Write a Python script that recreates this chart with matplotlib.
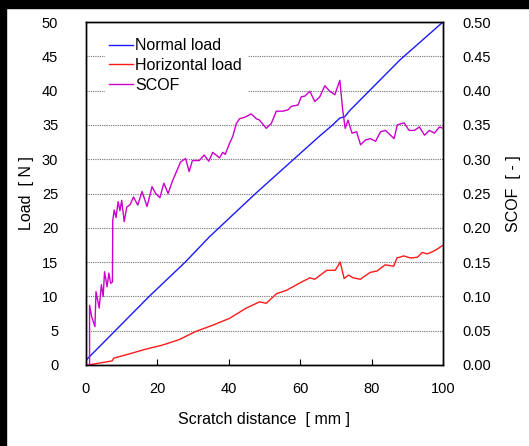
import matplotlib
matplotlib.use("Agg")
import matplotlib.pyplot as plt
from matplotlib.patches import Rectangle

plt.rcParams["font.family"] = ["Liberation Sans", "DejaVu Sans"]
plt.rcParams["font.size"] = 10.5

# --- data ---
normal_x = [0, 0, 17.7, 27.8, 34.6, 47.5, 58.2, 65.5, 69.1, 71.1, 72.5, 73.9, 88.0, 100]
normal_y = [0, 0.7, 10.0, 15.0, 18.7, 25.0, 30.0, 33.4, 35.0, 36.0, 36.2, 37.1, 44.5, 50.0]

horiz_x = [0.6, 7.3, 7.8, 12.0, 16.7, 21.4, 26.1, 30.8, 35.5, 40.2, 44.9, 48.6, 50.5,
           53.4, 56.2, 60.4, 62.7, 64.1, 67.4, 69.8, 71.2, 72.3, 73.5, 74.9, 76.8,
           79.6, 81.5, 83.8, 86.2, 87.1, 89.0, 90.9, 92.8, 94.2, 95.6, 97.0, 98.4, 99.8]
horiz_y = [0, 0.6, 1.0, 1.6, 2.3, 2.9, 3.7, 4.9, 5.8, 6.8, 8.3, 9.2, 9.0,
           10.4, 10.9, 12.1, 12.7, 12.5, 13.8, 13.8, 15.0, 12.6, 13.1, 12.7, 12.5,
           13.5, 13.7, 14.6, 14.4, 15.6, 15.9, 15.6, 15.7, 16.4, 16.2, 16.5, 16.9, 17.4]

scof_x = [0, 1.0, 1.0, 1.6, 2.5, 2.8, 3.7, 4.3, 4.8, 5.2, 5.9, 6.4, 6.9, 7.4, 7.5, 7.9,
          8.4, 9.0, 9.5, 10.0, 10.7, 11.4, 12.4, 13.3, 14.5, 15.7, 17.1, 18.5, 19.5,
          20.7, 21.8, 23.0, 24.2, 25.6, 26.5, 27.9, 28.9, 29.8, 31.7, 33.1, 34.4, 35.5,
          37.4, 38.3, 39.0, 40.2, 41.1, 42.1, 43.0, 44.4, 46.3, 47.7, 48.6, 50.5, 51.9,
          53.3, 55.2, 56.6, 57.5, 59.4, 60.3, 61.3, 62.7, 64.1, 65.5, 66.9, 68.3, 69.7,
          71.1, 71.9, 72.6, 73.4, 74.5, 75.8, 76.9, 78.3, 79.7, 81.1, 82.5, 83.9, 85.3,
          86.3, 87.2, 89.1, 90.5, 92.0, 93.4, 94.8, 96.2, 97.6, 99.0, 100]
scof_y = [0, 0, .087, .07, .056, .107, .083, .117, .10, .136, .114, .134, .119, .121,
          .211, .226, .215, .238, .225, .240, .209, .230, .234, .245, .233, .253, .231,
          .260, .250, .244, .265, .250, .268, .285, .296, .301, .282, .298, .298, .306,
          .297, .310, .302, .310, .307, .323, .333, .352, .359, .361, .366, .359, .357,
          .345, .352, .370, .370, .372, .377, .379, .391, .392, .399, .384, .391, .407,
          .399, .394, .415, .372, .345, .357, .338, .340, .321, .328, .330, .326, .340,
          .342, .335, .330, .350, .353, .342, .342, .347, .335, .342, .338, .347, .345]

fig = plt.figure(figsize=(5.29, 4.46), dpi=100)
W, H = 529, 446
# black strips along top and left of the original screenshot
fig.patches.append(Rectangle((0, 1 - 8 / H), 1, 8 / H, transform=fig.transFigure,
                             color="black", zorder=-1))
fig.patches.append(Rectangle((0, 0), 6 / W, 1, transform=fig.transFigure,
                             color="black", zorder=-1))

ax = fig.add_axes([86 / W, 1 - 365 / H, (443 - 86) / W, (365 - 22) / H])
ax2 = ax.twinx()

l1, = ax.plot(normal_x, normal_y, color="#1a1aff", lw=1.0, label="Normal load")
l2, = ax.plot(horiz_x, horiz_y, color="#ff1a1a", lw=1.0, label="Horizontal load")
l3, = ax2.plot(scof_x, scof_y, color="#cc00cc", lw=1.0, label="SCOF")

ax.set_xlim(0, 100)
ax.set_ylim(0, 50)
ax2.set_ylim(0, 0.5)
ax.set_xticks([0, 20, 40, 60, 80, 100])
ax.set_yticks(range(0, 51, 5))
ax2.set_yticks([i * 0.05 for i in range(11)])
ax2.set_yticklabels([f"{i * 0.05:.2f}" for i in range(11)])

ax.grid(axis="y", color="#707070", linestyle=(0, (1, 1)), lw=0.8)
ax.grid(axis="x", visible=False)
ax.tick_params(axis="x", direction="in", length=4, pad=12)
ax.tick_params(axis="y", length=0, pad=20)
ax2.tick_params(axis="y", length=0, pad=14)

for a in (ax, ax2):
    for s in a.spines.values():
        s.set_linewidth(1.0)
        s.set_color("black")

ax.set_xlabel("Scratch distance  [ mm ]", fontsize=11.5, labelpad=12)
ax.set_ylabel("Load  [ N ]", fontsize=11.5, labelpad=6)
ax2.set_ylabel("SCOF  [ - ]", fontsize=11.5, labelpad=11)

leg = ax2.legend(handles=[l1, l2, l3], loc="upper left", bbox_to_anchor=(0.03, 0.99),
                 frameon=True, fancybox=False, edgecolor="white", facecolor="white",
                 framealpha=1, fontsize=11.5, handlelength=1.45, handletextpad=0.15,
                 labelspacing=0.3, borderpad=0.3)

fig.savefig("out.png", dpi=100)
